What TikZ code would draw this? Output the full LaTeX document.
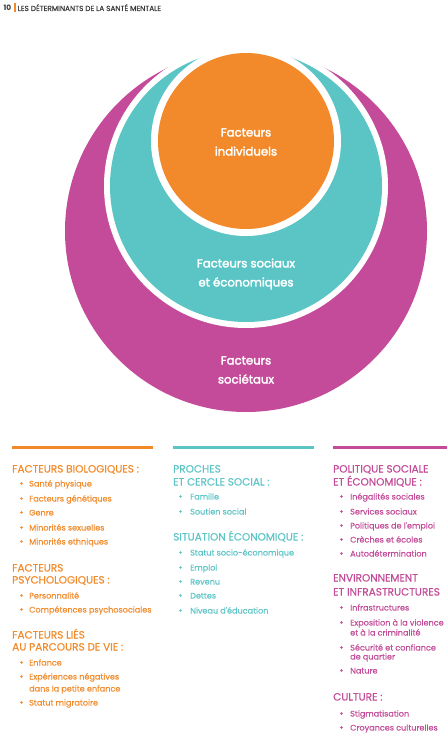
\documentclass[tikz,border=0pt]{standalone}
\usepackage{fontspec}
\setmainfont{Poppins}
\newfontfamily\hdfont{Poppins}[FakeBold=0.5]
\newfontfamily\itfont{Poppins}[FakeBold=0.3]
\newfontfamily\lbfont{Poppins}[FakeBold=2.4]
\definecolor{cor}{HTML}{F2892A}
\definecolor{cte}{HTML}{5BC5C6}
\definecolor{cma}{HTML}{C44B9A}
\definecolor{tor}{HTML}{F18B2C}
\definecolor{tte}{HTML}{5EC4C6}
\definecolor{tma}{HTML}{C24C98}
\definecolor{dark}{HTML}{3A3A3A}
\tikzset{
  circlabel/.style={text=white, font=\fontsize{11.7}{19}\lbfont, align=center, inner sep=0pt},
  hd/.style={anchor=base west, inner sep=0pt, font=\fontsize{10.5}{12}\hdfont},
  itm/.style={anchor=base west, inner sep=0pt, font=\fontsize{8.1}{10}\itfont},
  bar/.style={line width=3pt},
}
\begin{document}
\begin{tikzpicture}[x=1pt,y=-1pt]
\useasboundingbox (0,0) rectangle (447,743);
% header
\node[anchor=base west, inner sep=0pt, text=dark, font=\fontsize{7.4}{8}\selectfont\bfseries] (pg) at (3.5,11) {10};
\fill[cor] (14.3,3.5) rectangle (15.8,12.5);
\node[anchor=base west, inner sep=0pt, text=dark, font=\fontsize{7.3}{8}\hdfont] (ttl) at (17.5,11) {LES DÉTERMINANTS DE LA SANTÉ MENTALE};
% circles
\fill[cma] (246,231) circle[radius=181];
\fill[white] (246,186) circle[radius=142];
\fill[cte] (246,186) circle[radius=136];
\fill[white] (246,141) circle[radius=95];
\fill[cor] (246,141) circle[radius=88];
\node[circlabel] (ind) at (246,142) {Facteurs\\individuels};
\node[circlabel] (soc) at (246,274) {Facteurs sociaux\\et économiques};
\node[circlabel] (sct) at (246,370) {Facteurs\\sociétaux};
% bars
\draw[bar, cor] (12,447.5) -- (153,447.5);
\draw[bar, cte] (173,447.5) -- (314,447.5);
\draw[bar, cma] (333,447.5) -- (447,447.5);
% column 1
\begin{scope}[every node/.append style={text=tor}]
\node[hd] (h1) at (12,472.5) {FACTEURS BIOLOGIQUES :};
\node[itm] (a1) at (29,486.5) {Santé physique};
\node[itm] (a2) at (29,501.5) {Facteurs génétiques};
\node[itm] (a3) at (29,515.5) {Genre};
\node[itm] (a4) at (29,530.5) {Minorités sexuelles};
\node[itm] (a5) at (29,544.5) {Minorités ethniques};
\node[hd] (h2) at (12,571.5) {FACTEURS};
\node[hd] (h2b) at (12,583.5) {PSYCHOLOGIQUES :};
\node[itm] (b1) at (29,598.5) {Personnalité};
\node[itm] (b2) at (29,612.5) {Compétences psychosociales};
\node[hd] (h3) at (12,638.5) {FACTEURS LIÉS};
\node[hd] (h3b) at (12,650.5) {AU PARCOURS DE VIE :};
\node[itm] (c1) at (29,665.5) {Enfance};
\node[itm] (c2) at (29,679.5) {Expériences négatives};
\node[itm] (c2b) at (29,691.5) {dans la petite enfance};
\node[itm] (c3) at (29,705.5) {Statut migratoire};
\end{scope}
\foreach \yy in {483.5,498.5,512.5,527.5,541.5,595.5,609.5,662.5,676.5,702.5}
  \fill[tor] (21.5,\yy) circle[radius=1.3];
% column 2
\begin{scope}[every node/.append style={text=tte}]
\node[hd] (h4) at (173,472.5) {PROCHES};
\node[hd] (h4b) at (173,485.5) {ET CERCLE SOCIAL :};
\node[itm] (d1) at (190,499.5) {Famille};
\node[itm] (d2) at (190,514.5) {Soutien social};
\node[hd] (h5) at (173,540.5) {SITUATION ÉCONOMIQUE :};
\node[itm] (e1) at (190,555.5) {Statut socio-économique};
\node[itm] (e2) at (190,570.5) {Emploi};
\node[itm] (e3) at (190,584.5) {Revenu};
\node[itm] (e4) at (190,598.5) {Dettes};
\node[itm] (e5) at (190,613.5) {Niveau d'éducation};
\end{scope}
\foreach \yy in {496.5,511.5,552.5,567.5,581.5,595.5,610.5}
  \fill[tte] (180.5,\yy) circle[radius=1.3];
% column 3
\begin{scope}[every node/.append style={text=tma}]
\node[hd] (h6) at (333,472.5) {POLITIQUE SOCIALE};
\node[hd] (h6b) at (333,485.5) {ET ÉCONOMIQUE :};
\node[itm] (f1) at (350,499.5) {Inégalités sociales};
\node[itm] (f2) at (350,514.5) {Services sociaux};
\node[itm] (f3) at (350,528.5) {Politiques de l'emploi};
\node[itm] (f4) at (350,542.5) {Crèches et écoles};
\node[itm] (f5) at (350,556.5) {Autodétermination};
\node[hd] (h7) at (333,581.5) {ENVIRONNEMENT};
\node[hd] (h7b) at (333,595.5) {ET INFRASTRUCTURES};
\node[itm] (g1) at (350,610.5) {Infrastructures};
\node[itm] (g2) at (350,625.5) {Exposition à la violence};
\node[itm] (g2b) at (350,635.5) {et à la criminalité};
\node[itm] (g3) at (350,650.5) {Sécurité et confiance};
\node[itm] (g3b) at (350,659.5) {de quartier};
\node[itm] (g4) at (350,673.5) {Nature};
\node[hd] (h8) at (333,700.5) {CULTURE :};
\node[itm] (k1) at (350,716.5) {Stigmatisation};
\node[itm] (k2) at (350,730.5) {Croyances culturelles};
\end{scope}
\foreach \yy in {496.5,511.5,525.5,539.5,553.5,607.5,622.5,647.5,670.5,713.5,727.5}
  \fill[tma] (341.5,\yy) circle[radius=1.3];
\end{tikzpicture}
\end{document}
